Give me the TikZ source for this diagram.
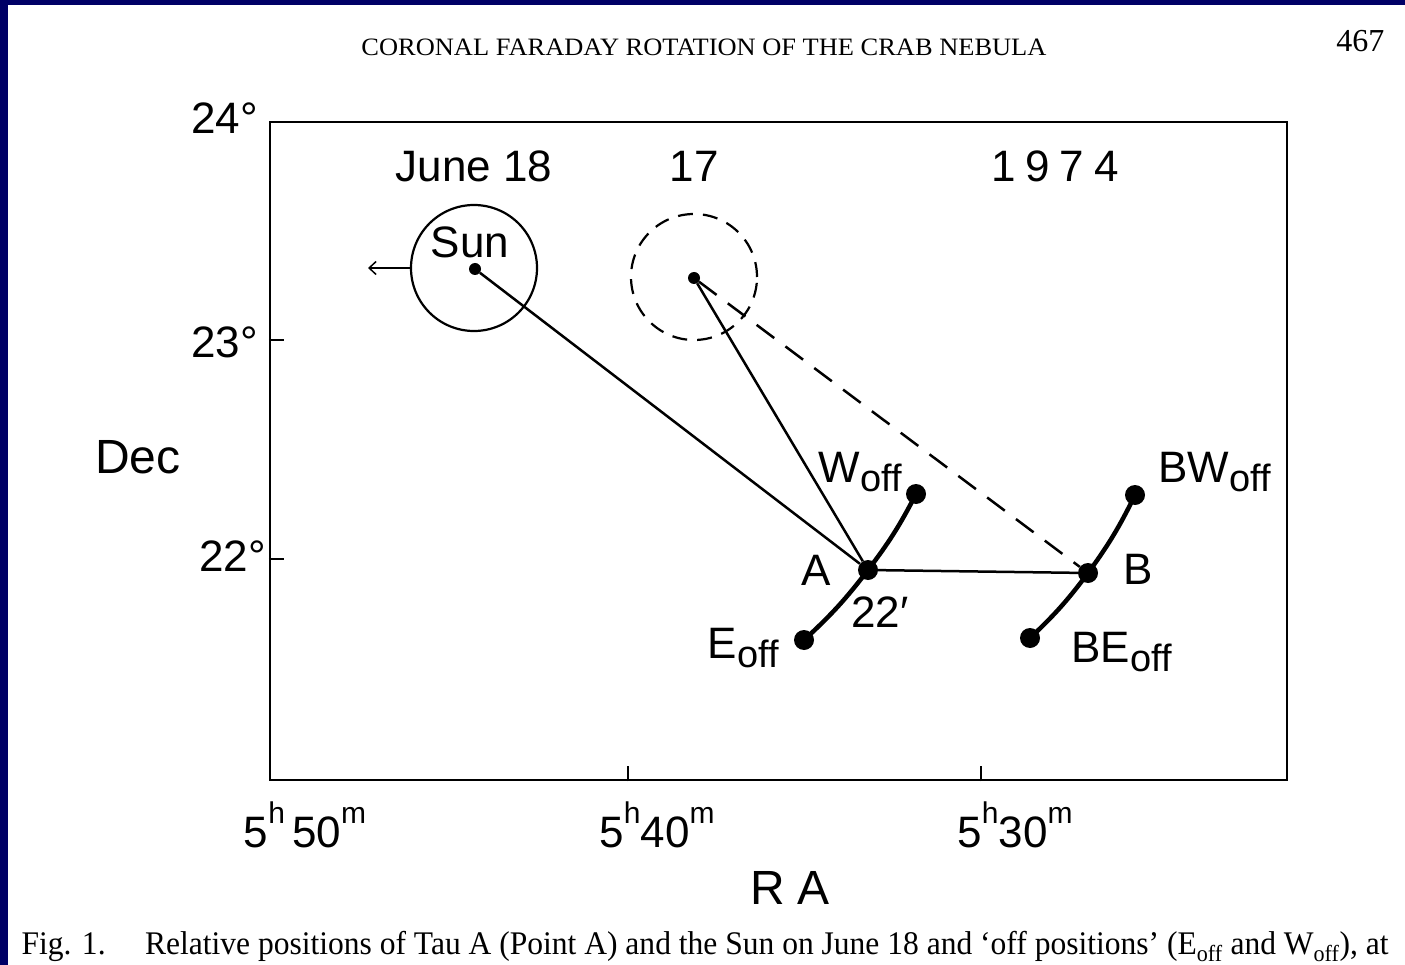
\documentclass[tikz,border=0pt]{standalone}
\usepackage{fontspec}
\setmainfont{Liberation Serif}
\setsansfont{Liberation Sans}
\usepackage{graphicx}
\usetikzlibrary{arrows.meta, positioning}
\definecolor{slidenavy}{RGB}{0,0,102}
\newcommand{\offsub}[1]{#1\raisebox{-9pt}{\fontsize{38}{38}\selectfont off}}
\newcommand{\upsc}[1]{\raisebox{0.55em}{\fontsize{30}{30}\selectfont #1}}

\begin{document}
\begin{tikzpicture}[
    x=1pt, y=-1pt,
    lab/.style={font=\sffamily\fontsize{44}{48}\selectfont, inner sep=0pt},
    biglab/.style={font=\sffamily\fontsize{48}{52}\selectfont, inner sep=0pt},
    dot/.style={circle, fill, inner sep=0pt, minimum size=12pt},
    bigdot/.style={circle, fill, inner sep=0pt, minimum size=20pt},
    ring/.style={circle, draw, line width=2.2pt, inner sep=0pt, minimum size=126pt},
    thinline/.style={line width=2.5pt},
    offline/.style={line width=4.5pt},
    dashline/.style={line width=2.5pt, dash pattern=on 22pt off 14pt}
]
\useasboundingbox (0,0) rectangle (1405,965);
\fill[slidenavy] (0,0) rectangle (1405,5);
\fill[slidenavy] (0,0) rectangle (8,965);

\node[font=\fontsize{25}{27}\selectfont, anchor=base] (head) at (704,56) {\resizebox{685pt}{\height}{CORONAL FARADAY ROTATION OF THE CRAB NEBULA}};
\node[font=\fontsize{32}{34}\selectfont, anchor=base east] (page) at (1388,52) {467};

\node[draw, line width=2.5pt, inner sep=0pt, minimum width=1017pt, minimum height=658pt] (frame) at (778.5,451) {};
\foreach \ty in {340,559}
    \draw[thinline] (frame.west |- 0,\ty) -- ++(15,0);
\foreach \tx in {628,981}
    \draw[thinline] (frame.south -| \tx,0) -- ++(0,-15);

\foreach \lx/\ty/\deg in {258/118/24, 258/342/23, 266/556/22}
    \node[lab, anchor=east] (dec\deg) at (\lx,\ty) {\deg°};
\node[biglab] (dec) at (138,457) {Dec};
\node[lab] (ra50) at (305,825) {5\upsc{h}\,50\upsc{m}};
\node[lab] (ra40) at (657,825) {5\upsc{h}40\upsc{m}};
\node[lab] (ra30) at (1015,825) {5\upsc{h}30\upsc{m}};
\node[biglab] (ra) at (790,888) {R A};

\node[dot] (sun) at (475,269) {};
\node[ring] (sunring) at (474,268) {};
\node[dot] (prev) at (694,278) {};
\node[ring, dash pattern=on 15pt off 10pt] (prevring) at (694,277) {};
\node[bigdot] (A) at (868,570) {};
\node[bigdot] (B) at (1088,573) {};
\node[bigdot] (Woff) at (916,494) {};
\node[bigdot] (Eoff) at (804,640) {};
\node[bigdot] (BWoff) at (1135,495) {};
\node[bigdot] (BEoff) at (1030,638) {};

\node[lab, left=27pt of A] (Alab) {A};
\node[lab, right=25pt of B, yshift=4pt] (Blab) {B};
\node[lab, below=16pt of A, xshift=12pt] (Aang) {22′};
\node[lab, left=15pt of Eoff, yshift=-8pt] (Eofflab) {\offsub{E}};
\node[lab, left=4pt of Woff, yshift=22pt] (Wofflab) {\offsub{W}};
\node[lab, right=13pt of BWoff, yshift=23pt] (BWofflab) {\offsub{BW}};
\node[lab, right=31pt of BEoff, yshift=-14pt] (BEofflab) {\offsub{BE}};
\node[lab, above=5pt of sun, xshift=-5pt] (sunlab) {Sun};
\node[lab, above=22pt of sunring] (june) {June 18};
\node[lab, above=31pt of prevring] (day) {17};
\node[lab] (year) at (1055,166) {1\hspace{10pt}9\hspace{10pt}7\hspace{10pt}4};

\coordinate (westward) at (368,268);
\draw[line width=1.5pt, -{Straight Barb[length=7pt, width=13pt]}] (sunring.west) -- (westward);

\draw[thinline] (sun) -- (A);
\draw[thinline] (prev) -- (A);
\draw[thinline] (A) -- (B);
\draw[dashline] (prev) -- (B);
\draw[offline] (Eoff.center) to[bend right=5] (A.center) to[bend right=5] (Woff.center);
\draw[offline] (BEoff.center) to[bend right=5] (B.center) to[bend right=5] (BWoff.center);

\node[font=\fontsize{33}{35}\selectfont, anchor=base west] (caption) at (18,954) {\resizebox{1367pt}{\height}{Fig. 1.\quad\ Relative positions of Tau A (Point A) and the Sun on June 18 and ‘off positions’ (E\textsubscript{off} and W\textsubscript{off}), at}};
\end{tikzpicture}
\end{document}
